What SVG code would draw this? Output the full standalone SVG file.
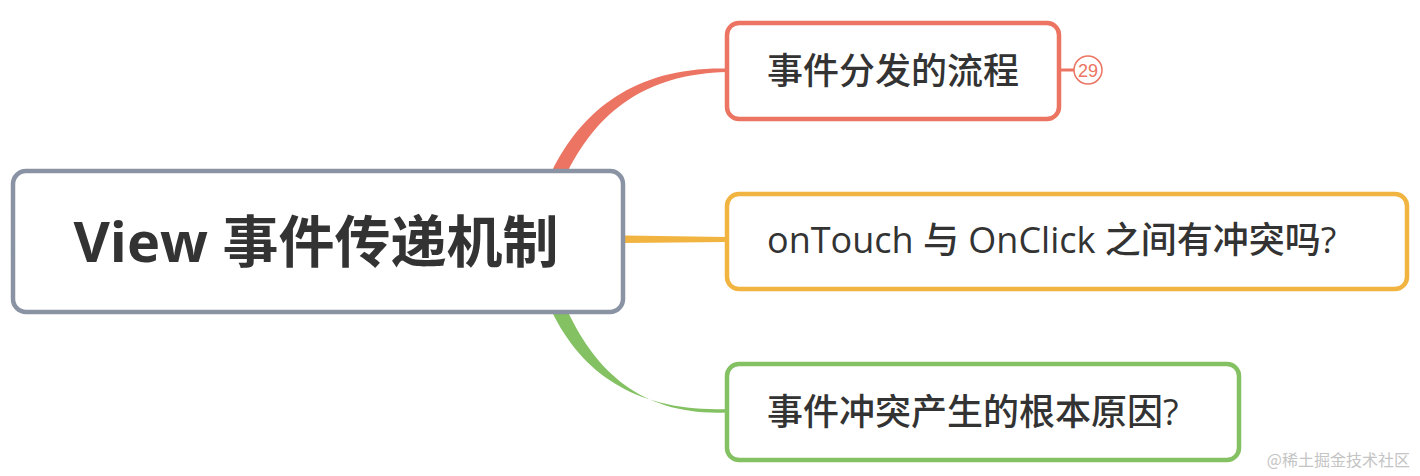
<svg xmlns="http://www.w3.org/2000/svg" width="1420" height="476" viewBox="0 0 1420 476">
<style>
.box{fill:#ffffff;stroke-width:4.5}
.t{font-family:"Open Sans","Noto Sans CJK SC",sans-serif;fill:#333333;font-size:36px;font-weight:500}
.root{font-size:56px;font-weight:bold}
</style>
<rect width="1420" height="476" fill="#ffffff"/>
<g id="connectors">
<path d="M552,171 C583,108 638,66.5 727,68.5 L727,72 C645,74 598,112 568,171 Z" fill="#ec7462"/>
<path d="M625,235.5 L727,237 L727,242 L625,243 Z" fill="#f2b440"/>
<path d="M552,312 C583,375 638,412 727,409 L727,412.5 C645,416 598,375 568,312 Z" fill="#84c163"/>
<line x1="1059" y1="70" x2="1075" y2="70" stroke="#ec7462" stroke-width="3"/>
</g>
<g id="root">
<rect class="box" x="13" y="171" width="610" height="141" rx="13" stroke="#8a93a3"/>
<text class="t root" x="316" y="262" text-anchor="middle">View 事件传递机制</text>
</g>
<g id="node1">
<rect class="box" x="727" y="23" width="332" height="96" rx="12" stroke="#ec7462"/>
<text class="t" x="767" y="84">事件分发的流程</text>
</g>
<g id="badge">
<circle cx="1088" cy="70" r="14" fill="#ffffff" stroke="#ec7462" stroke-width="1.5"/>
<text x="1088" y="77" text-anchor="middle" font-family="'Liberation Sans',sans-serif" font-size="18" fill="#ec7462">29</text>
</g>
<g id="node2">
<rect class="box" x="727" y="194" width="680" height="95" rx="12" stroke="#f2b440"/>
<text class="t" x="767" y="253">onTouch 与 OnClick 之间有冲突吗?</text>
</g>
<g id="node3">
<rect class="box" x="727" y="364" width="512" height="96" rx="12" stroke="#84c163"/>
<text class="t" x="767" y="425">事件冲突产生的根本原因?</text>
</g>
<text x="1410" y="466" text-anchor="end" font-family="'Noto Sans CJK SC',sans-serif" font-size="16" fill="#c4c4c4">@稀土掘金技术社区</text>
</svg>
